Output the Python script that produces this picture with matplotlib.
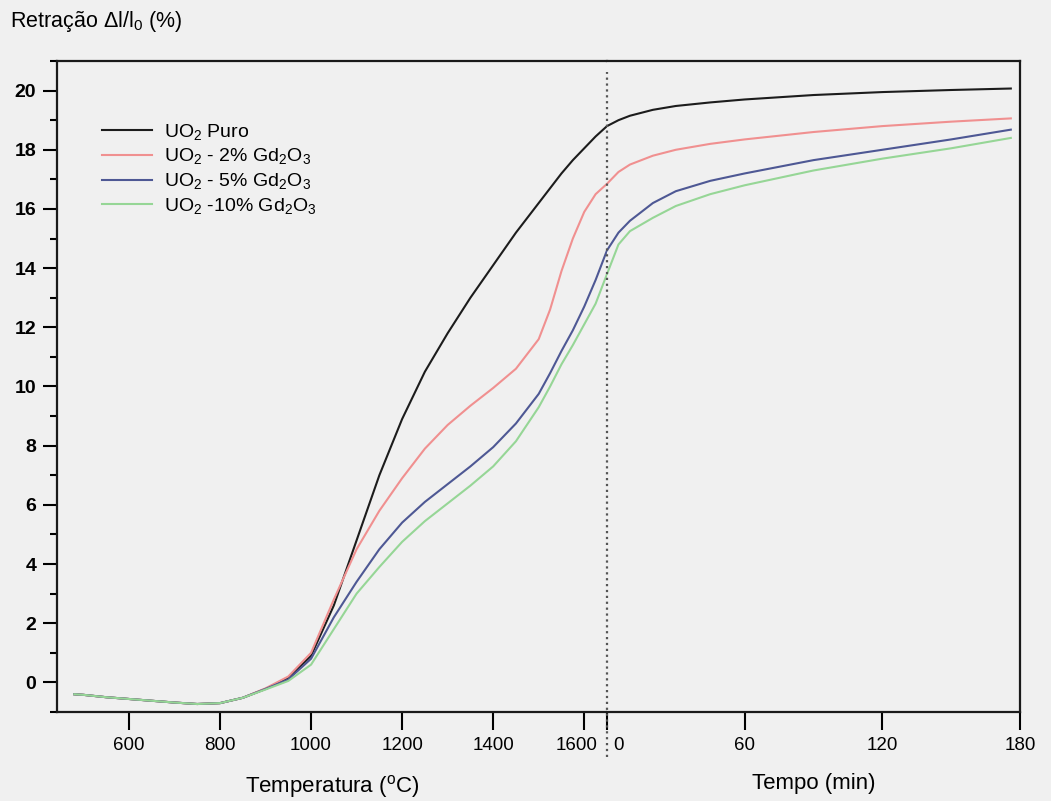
import matplotlib
matplotlib.use("Agg")
import matplotlib.pyplot as plt
import matplotlib.transforms as mtransforms
from matplotlib.ticker import MultipleLocator

plt.rcParams['font.family'] = ['Liberation Sans', 'DejaVu Sans']
plt.rcParams['mathtext.default'] = 'regular'

# ---- data: temperature ramp (°C) ----
temp = [480, 500, 550, 600, 650, 700, 750, 800, 850, 900, 950, 1000, 1050,
        1100, 1150, 1200, 1250, 1300, 1350, 1400, 1450, 1500, 1525, 1550, 1575, 1600, 1625, 1650]
puro_T = [-0.40, -0.42, -0.50, -0.56, -0.62, -0.68, -0.73, -0.70, -0.52, -0.22, 0.15, 0.9, 2.6,
          4.8, 7.0, 8.9, 10.5, 11.8, 13.0, 14.1, 15.2, 16.2, 16.7, 17.2, 17.65, 18.05, 18.45, 18.8]
gd2_T = [-0.40, -0.42, -0.50, -0.56, -0.62, -0.68, -0.73, -0.70, -0.52, -0.20, 0.2, 1.0, 2.8,
         4.5, 5.8, 6.9, 7.9, 8.7, 9.35, 9.95, 10.6, 11.6, 12.6, 13.9, 15.0, 15.9, 16.5, 16.85]
gd5_T = [-0.40, -0.42, -0.50, -0.56, -0.62, -0.68, -0.73, -0.70, -0.52, -0.22, 0.1, 0.8, 2.2,
         3.4, 4.5, 5.4, 6.1, 6.7, 7.3, 7.95, 8.75, 9.75, 10.45, 11.2, 11.9, 12.7, 13.6, 14.6]
gd10_T = [-0.40, -0.42, -0.50, -0.56, -0.62, -0.68, -0.73, -0.70, -0.52, -0.24, 0.05, 0.6, 1.8,
          3.0, 3.9, 4.75, 5.45, 6.05, 6.65, 7.3, 8.15, 9.3, 10.0, 10.75, 11.4, 12.1, 12.8, 13.8]

# ---- data: isothermal hold (min) ----
tempo = [0, 5, 10, 20, 30, 45, 60, 90, 120, 150, 176]
puro_t = [18.8, 19.0, 19.15, 19.35, 19.48, 19.6, 19.7, 19.85, 19.95, 20.02, 20.07]
gd2_t = [16.85, 17.25, 17.5, 17.8, 18.0, 18.2, 18.35, 18.6, 18.8, 18.95, 19.06]
gd5_t = [14.6, 15.2, 15.6, 16.2, 16.6, 16.95, 17.2, 17.65, 18.0, 18.35, 18.68]
gd10_t = [13.8, 14.8, 15.25, 15.7, 16.1, 16.5, 16.8, 17.3, 17.7, 18.05, 18.4]

labels = ["UO$_2$ Puro", "UO$_2$ - 2% Gd$_2$O$_3$", "UO$_2$ - 5% Gd$_2$O$_3$",
          "UO$_2$ -10% Gd$_2$O$_3$"]
colors = ["#1c1c1c", "#f09090", "#4e5894", "#96d696"]

temp_ticks = [600, 800, 1000, 1200, 1400, 1600]
tempo_ticks = [0, 60, 120, 180]

W, H = 1051, 801
fig = plt.figure(figsize=(W / 100, H / 100), dpi=100)
bg = "#f0f0f0"
fig.patch.set_facecolor(bg)

L, X0, R = 57 / W, 607 / W, 1020 / W
B, T = 1 - 712 / H, 1 - 61 / H
ax1 = fig.add_axes([L, B, X0 - L, T - B])
ax2 = fig.add_axes([X0, B, R - X0, T - B], sharey=ax1)
for ax in (ax1, ax2):
    ax.set_facecolor(bg)
    for s in ax.spines.values():
        s.set_linewidth(1.6)
        s.set_color("#1a1a1a")

lw = 1.5
for ys, c, lab in zip([puro_T, gd2_T, gd5_T, gd10_T], colors, labels):
    ax1.plot(temp, ys, color=c, lw=lw, label=lab)
for ys, c in zip([puro_t, gd2_t, gd5_t, gd10_t], colors):
    ax2.plot(tempo, ys, color=c, lw=lw)

ax1.set_xlim(442, 1650)
ax2.set_xlim(0, 180)
ax1.set_ylim(-1, 21)
ax1.spines['right'].set_visible(False)
ax2.spines['left'].set_visible(False)

ax1.set_xticks(temp_ticks)
ax2.set_xticks(tempo_ticks)
ax1.yaxis.set_major_locator(MultipleLocator(2))
ax1.yaxis.set_minor_locator(MultipleLocator(1))
ax2.tick_params(axis='y', which='both', left=False, labelleft=False)
for ax in (ax1, ax2):
    ax.tick_params(axis='x', direction='out', length=13, width=1.5, labelsize=13.5, pad=5)
ax1.tick_params(axis='y', which='major', direction='out', length=10, width=1.5, labelsize=14, pad=5)
ax1.tick_params(axis='y', which='minor', direction='out', length=5, width=1.5)
for t in ax1.get_yticklabels():
    t.set_fontweight('bold')

# nudge the two labels that meet at the break
fig.canvas.draw()
lab1600 = ax1.get_xticklabels()[-1]
lab1600.set_transform(lab1600.get_transform() +
                      mtransforms.ScaledTranslation(-8 / 100, 0, fig.dpi_scale_trans))
lab0 = ax2.get_xticklabels()[0]
lab0.set_transform(lab0.get_transform() +
                   mtransforms.ScaledTranslation(11 / 100, 0, fig.dpi_scale_trans))

ax2.axvline(0, ymin=-0.069, ymax=0.983, color="#555555", ls=":", lw=1.6, clip_on=False)

ax1.set_xlabel("Temperatura ($^o$C)", fontsize=16, labelpad=14)
ax2.set_xlabel("Tempo (min)", fontsize=16, labelpad=14)
fig.text(10 / W, 1 - 22 / H, "Retração Δl/l$_0$ (%)", fontsize=15.5, va='center', ha='left')

leg = ax1.legend(loc='upper left', bbox_to_anchor=(88 / W, 1 - 108 / H),
                 bbox_transform=fig.transFigure, frameon=False, fontsize=14,
                 handlelength=2.6, handletextpad=0.6, labelspacing=0.25,
                 borderpad=0.2)

fig.savefig("out.png", dpi=100, facecolor=bg)
